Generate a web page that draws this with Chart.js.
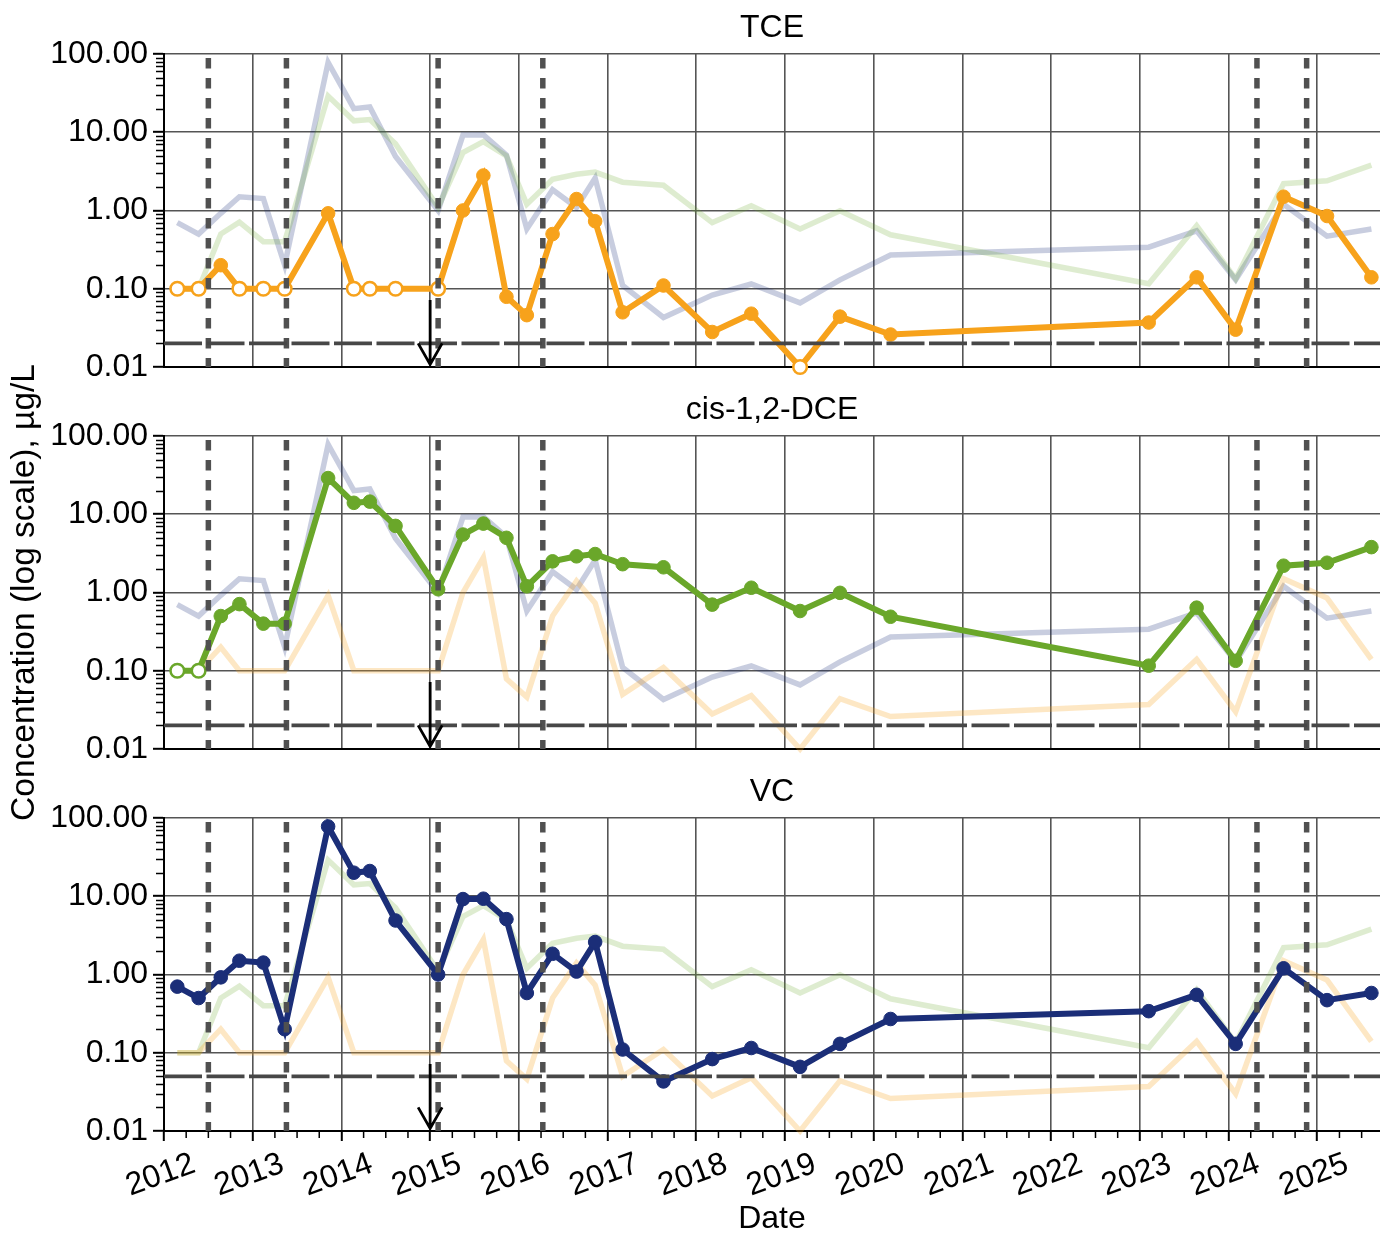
<!DOCTYPE html>
<html>
<head>
<meta charset="utf-8">
<title>TCE / cis-1,2-DCE / VC</title>
<script src="https://cdn.jsdelivr.net/npm/chart.js@4.4.1/dist/chart.umd.min.js"></script>
<style>
  html, body { margin: 0; padding: 0; background: #fff; }
  #wrap { position: relative; width: 1380px; height: 1235px; }
  #wrap canvas { position: absolute; left: 0; top: 0; }
</style>
</head>
<body>
<div id="wrap">
  <canvas id="tce" width="1380" height="1235"></canvas>
  <canvas id="dce" width="1380" height="1235"></canvas>
  <canvas id="vc" width="1380" height="1235"></canvas>
</div>
<script>
// --- data (dates as decimal years) ---
const sampleDates = [2012.15, 2012.39, 2012.64, 2012.85, 2013.12, 2013.36, 2013.85, 2014.14, 2014.32, 2014.61,
    2015.09, 2015.37, 2015.60, 2015.86, 2016.09, 2016.38, 2016.65, 2016.86, 2017.17, 2017.63,
    2018.18, 2018.62, 2019.17, 2019.62, 2020.19, 2023.10, 2023.64, 2024.08, 2024.62, 2025.11, 2025.61];

const tceValues = [0.1, 0.1, 0.2, 0.1, 0.1, 0.1, 0.92, 0.1, 0.1, 0.1,
    0.1, 1.0, 2.8, 0.079, 0.046, 0.50, 1.4, 0.73, 0.050, 0.11,
    0.028, 0.048, 0.01, 0.044, 0.026, 0.037, 0.14, 0.030, 1.5, 0.85, 0.14];
const tceNonDetect = [1, 1, 0, 1, 1, 1, 0, 1, 1, 1,
    1, 0, 0, 0, 0, 0, 0, 0, 0, 0,
    0, 0, 1, 0, 0, 0, 0, 0, 0, 0, 0];

const dceValues = [0.1, 0.1, 0.50, 0.71, 0.40, 0.40, 29, 14, 14.5, 7.1,
    1.1, 5.5, 7.6, 5.0, 1.2, 2.5, 2.9, 3.1, 2.3, 2.1,
    0.70, 1.15, 0.58, 0.99, 0.49, 0.116, 0.64, 0.134, 2.2, 2.4, 3.8];
const dceNonDetect = [1, 1, 0, 0, 0, 0, 0, 0, 0, 0,
    0, 0, 0, 0, 0, 0, 0, 0, 0, 0,
    0, 0, 0, 0, 0, 0, 0, 0, 0, 0, 0];

const vcValues = [0.70, 0.50, 0.92, 1.5, 1.42, 0.20, 78, 20, 21, 4.9,
    1.0, 9.2, 9.3, 5.1, 0.58, 1.84, 1.09, 2.6, 0.11, 0.043,
    0.083, 0.115, 0.066, 0.13, 0.27, 0.34, 0.55, 0.13, 1.2, 0.47, 0.58];
const vcNonDetect = sampleDates.map(() => 0);

const yearTicks = [2012, 2013, 2014, 2015, 2016, 2017, 2018, 2019, 2020, 2021, 2022, 2023, 2024, 2025];
const decadeTicks = [0.01, 0.1, 1, 10, 100];
const eventDates = [2012.5, 2013.38, 2015.09, 2016.27, 2024.32, 2024.88];
const screeningLevels = [0.02, 0.02, 0.05];   // TCE, cis-1,2-DCE, VC
const arrowDate = 2015.0;
const arrowRange = [0.072, 0.0108];            // from, to

const X_MIN = 2012, X_MAX = 2025.707;

// --- styling ---
Chart.defaults.font.family = "'Liberation Sans', Arial, sans-serif";
Chart.defaults.color = '#000';
const FONT = 32;
const PANEL_TOP = [54, 436, 818];
const PANEL_H = 313;
const CANVAS_H = 1235;
const AXIS_W = 164;
const X_AXIS_H = 104;
const GRID = '#555';

const series = [
    { name: 'TCE', values: tceValues, nd: tceNonDetect, color: '#f7a21b', faint: 'rgba(247,162,27,0.26)' },
    { name: 'cis-1,2-DCE', values: dceValues, nd: dceNonDetect, color: '#6aa72a', faint: 'rgba(106,167,42,0.22)' },
    { name: 'VC', values: vcValues, nd: vcNonDetect, color: '#1b2e78', faint: 'rgba(27,46,120,0.24)' }
];

// reference lines, arrow and minor ticks, placed through the chart scales
const referenceMarks = {
    id: 'referenceMarks',
    afterDatasetsDraw(chart, args, o) {
        const { ctx, chartArea: a, scales: { x, y } } = chart;
        ctx.save();

        // minor log ticks
        ctx.strokeStyle = '#000';
        ctx.lineWidth = 1.5;
        ctx.beginPath();
        decadeTicks.slice(0, -1).forEach(d => {
            for (let k = 2; k < 10; k++) {
                const py = Math.round(y.getPixelForValue(k * d)) + 0.5;
                ctx.moveTo(a.left - 8, py);
                ctx.lineTo(a.left, py);
            }
        });
        // quarter ticks on the date axis
        if (o.quarterTicks) {
            yearTicks.forEach(yr => {
                [0.25, 0.5, 0.75].forEach(q => {
                    if (yr + q > X_MAX) return;
                    const px = x.getPixelForValue(yr + q);
                    ctx.moveTo(px, a.bottom);
                    ctx.lineTo(px, a.bottom + 7);
                });
            });
        }
        ctx.stroke();

        // event lines
        ctx.strokeStyle = '#505050';
        ctx.lineWidth = 5.5;
        ctx.setLineDash([10.5, 9.5]);
        eventDates.forEach(d => {
            const px = x.getPixelForValue(d);
            ctx.beginPath();
            ctx.moveTo(px, a.top + 4);
            ctx.lineTo(px, a.bottom);
            ctx.stroke();
        });

        // screening level
        ctx.strokeStyle = '#474747';
        ctx.lineWidth = 3.8;
        ctx.setLineDash([38, 4.5]);
        const ly = y.getPixelForValue(o.level);
        ctx.beginPath();
        ctx.moveTo(a.left, ly);
        ctx.lineTo(a.right, ly);
        ctx.stroke();

        // arrow
        ctx.setLineDash([]);
        ctx.strokeStyle = '#000';
        ctx.lineWidth = 2.8;
        const ax = x.getPixelForValue(arrowDate);
        const y0 = y.getPixelForValue(arrowRange[0]);
        const y1 = y.getPixelForValue(arrowRange[1]);
        ctx.beginPath();
        ctx.moveTo(ax, y0);
        ctx.lineTo(ax, y1);
        ctx.moveTo(ax - 12, y1 - 21);
        ctx.lineTo(ax, y1);
        ctx.lineTo(ax + 12, y1 - 21);
        ctx.stroke();

        ctx.restore();
    }
};

function makePanel(canvasId, idx) {
    const isBottom = idx === 2;
    const top = PANEL_TOP[idx];
    const xh = isBottom ? X_AXIS_H : 0;
    const bottomPad = CANVAS_H - (top + PANEL_H) - xh;

    const datasets = [];
    const focus = series[idx];
    datasets.push({
        label: focus.name,
        data: sampleDates.map((d, i) => ({ x: d, y: focus.values[i] })),
        borderColor: focus.color,
        borderWidth: 6,
        pointRadius: 6.8,
        pointBorderWidth: c => focus.nd[c.dataIndex] ? 2.5 : 1,
        pointBorderColor: focus.color,
        pointBackgroundColor: c => focus.nd[c.dataIndex] ? '#fff' : focus.color,
        tension: 0,
        clip: false
    });
    series.forEach((s, j) => {
        if (j === idx) return;
        datasets.push({
            label: s.name,
            data: sampleDates.map((d, i) => ({ x: d, y: s.values[i] })),
            borderColor: s.faint,
            borderWidth: 5.5,
            pointRadius: 0,
            tension: 0,
            clip: false
        });
    });

    return new Chart(document.getElementById(canvasId), {
        type: 'line',
        data: { datasets },
        plugins: [referenceMarks],
        options: {
            responsive: false,
            devicePixelRatio: 1,
            animation: false,
            layout: {
                autoPadding: false,
                padding: { top: top - 54, bottom: bottomPad, left: 0, right: 0 }
            },
            plugins: {
                legend: { display: false },
                tooltip: { enabled: false },
                title: {
                    display: true,
                    text: focus.name,
                    fullSize: false,
                    font: { size: FONT, weight: 'normal' },
                    color: '#000',
                    padding: { top: 9, bottom: 6.6 }
                },
                referenceMarks: { level: screeningLevels[idx], quarterTicks: isBottom }
            },
            scales: {
                x: {
                    type: 'linear',
                    min: X_MIN,
                    max: X_MAX,
                    afterBuildTicks: s => { s.ticks = yearTicks.map(v => ({ value: v })); },
                    afterFit: s => { s.height = xh; s.paddingLeft = 0; s.paddingRight = 0; },
                    ticks: {
                        display: isBottom,
                        autoSkip: false,
                        minRotation: 20,
                        maxRotation: 20,
                        labelOffset: 30,
                        padding: 4,
                        font: { size: FONT },
                        color: '#000',
                        callback: v => String(v)
                    },
                    grid: {
                        color: GRID,
                        lineWidth: 1.6,
                        drawTicks: isBottom,
                        tickLength: 10,
                        tickColor: '#000',
                        tickWidth: 2
                    },
                    border: { display: true, color: '#000', width: 2 },
                    title: {
                        display: isBottom,
                        text: 'Date',
                        font: { size: FONT, lineHeight: 1 },
                        color: '#000',
                        padding: 0
                    }
                },
                y: {
                    type: 'logarithmic',
                    min: 0.01,
                    max: 100,
                    afterBuildTicks: s => { s.ticks = decadeTicks.map(v => ({ value: v })); },
                    afterFit: s => { s.width = AXIS_W; s.paddingTop = 0; s.paddingBottom = 0; },
                    ticks: {
                        padding: 5,
                        font: { size: FONT },
                        color: '#000',
                        callback: v => Number(v).toFixed(2)
                    },
                    grid: {
                        color: GRID,
                        lineWidth: 1.6,
                        tickLength: 11,
                        tickColor: '#000',
                        tickWidth: 2
                    },
                    border: { display: true, color: '#000', width: 2 },
                    title: {
                        display: idx === 1,
                        text: 'Concentration (log scale), µg/L',
                        font: { size: 33.5 },
                        color: '#000',
                        padding: { top: 5, bottom: 0 }
                    }
                }
            }
        }
    });
}

makePanel('tce', 0);
makePanel('dce', 1);
makePanel('vc', 2);
</script>
</body>
</html>
